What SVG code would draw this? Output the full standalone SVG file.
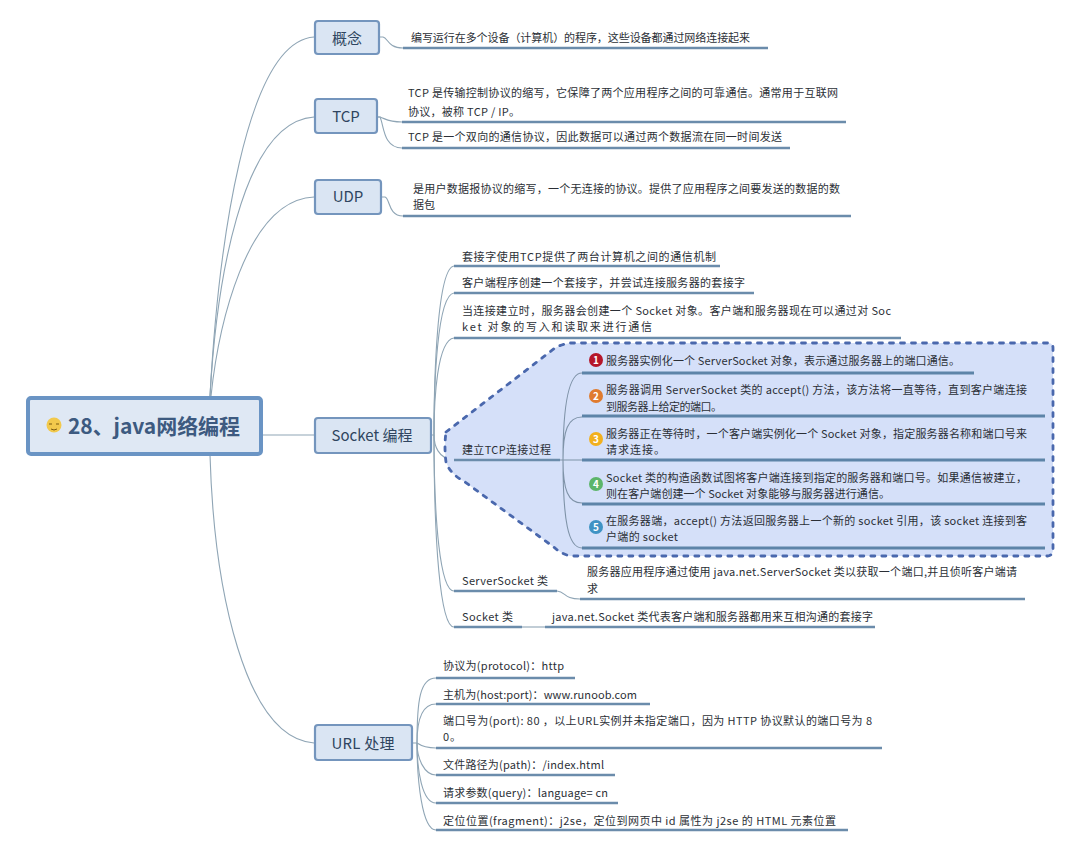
<svg xmlns="http://www.w3.org/2000/svg" width="1080" height="851" viewBox="0 0 1080 851">
<style>
text{font-family:"Noto Sans CJK SC","Noto Sans",sans-serif;fill:#2b2f36}
.t{font-size:11px}
.b{font-size:15px;fill:#2f4560;text-anchor:middle}
.node{fill:#dae5f3;stroke:#7495bd;stroke-width:2.2}
.c{fill:none;stroke:#8fa5b5;stroke-width:1.1}
.u{fill:none;stroke:#6b8cab;stroke-width:2.6}
.u2{fill:none;stroke:#5d84a8;stroke-width:2.8}
</style>
<rect width="1080" height="851" fill="#fff"/>
<g id="connectors">
<path class="c" d="M210 396C218 250 245 42 314 37"/>
<path class="c" d="M210 396C216 290 240 122 314 117"/>
<path class="c" d="M211 396C218 330 245 200 314 197"/>
<path class="c" d="M262 435H315"/>
<path class="c" d="M210 455C214 590 245 738 314 743"/>
<path class="c" d="M380 37H383C388 38 388 48 403 48"/>
<path class="c" d="M377 117H380C386 119 388 122 402 122"/>
<path class="c" d="M377 117H380C384 125 383 148 402 148"/>
<path class="c" d="M382 197H385C390 198 388 216 403 216"/>
<path class="c" d="M431 435H434C434 380 437 268 454 266"/>
<path class="c" d="M434 435C434 385 437 295 454 293"/>
<path class="c" d="M434 435C434 400 437 340 454 338"/>
<path class="c" d="M434 435C434 445 438 459 454 460"/>
<path class="c" d="M434 435C434 520 440 591 454 591"/>
<path class="c" d="M434 435C434 540 440 627 454 627"/>
<path class="c" d="M412 743H417C417 700 420 678 436 678"/>
<path class="c" d="M417 743C417 720 422 704 436 704"/>
<path class="c" d="M417 743C420 745 425 748 436 748"/>
<path class="c" d="M417 743C417 758 424 775 436 775"/>
<path class="c" d="M417 743C417 770 422 803 436 803"/>
<path class="c" d="M417 743C417 780 422 830 436 830"/>
<path class="c" d="M557 591C566 592 564 599 580 599"/>
<path class="c" d="M522 627H545"/>
</g>
<g id="socket-boundary">
<path d="M446 432L555 348Q562 344 570 343H1048Q1053 343 1053 348V550Q1053 555 1048 556H570Q560 553 555 548L465 482Q450 474 446 462Q444 447 446 432Z" fill="#d5e0f9" stroke="#4a68ad" stroke-width="2.8" stroke-dasharray="4 7" stroke-linecap="round"/>
</g>
<g id="root">
<rect x="28" y="398" width="233" height="56" rx="3" fill="#dfe8f4" stroke="#6a94c4" stroke-width="4"/>
<circle cx="54" cy="425" r="7.5" fill="#f2c94c"/>
<path d="M49 424h3M56 424h3M51 429q3 2 6 0" fill="none" stroke="#7a5a10" stroke-width="1"/>
<text x="68" y="434" font-size="21" font-weight="700" style="fill:#3d5a80" textLength="172">28、java网络编程</text>
</g>
<g id="n-concept"><rect class="node" x="315" y="21" width="64" height="33" rx="3"/><text class="b" x="347" y="44">概念</text></g>
<g id="n-tcp"><rect class="node" x="315" y="99" width="62" height="34" rx="3"/><text class="b" x="346" y="122">TCP</text></g>
<g id="n-udp"><rect class="node" x="315" y="180" width="66" height="34" rx="3"/><text class="b" x="348" y="202">UDP</text></g>
<g id="n-socket"><rect class="node" x="315" y="418" width="116" height="35" rx="3"/><text class="b" x="372" y="441" textLength="81">Socket 编程</text></g>
<g id="n-url"><rect class="node" x="315" y="725" width="97" height="35" rx="3"/><text class="b" x="363" y="749" textLength="63">URL 处理</text></g>
<g id="concept-items"><path class="u" d="M403 48H768"/><text class="t" x="411" y="42" textLength="339">编写运行在多个设备（计算机）的程序，这些设备都通过网络连接起来</text></g>
<g id="tcp-items"><path class="u" d="M402 122H846M402 148H790"/>
<text class="t" x="408" y="97" textLength="430">TCP 是传输控制协议的缩写，它保障了两个应用程序之间的可靠通信。通常用于互联网</text>
<text class="t" x="408" y="116" textLength="112">协议，被称 TCP / IP。</text>
<text class="t" x="408" y="141" textLength="374">TCP 是一个双向的通信协议，因此数据可以通过两个数据流在同一时间发送</text></g>
<g id="udp-items"><path class="u" d="M403 216H851"/>
<text class="t" x="413" y="193" textLength="427">是用户数据报协议的缩写，一个无连接的协议。提供了应用程序之间要发送的数据的数</text>
<text class="t" x="413" y="209" textLength="22">据包</text></g>
<g id="socket-items"><path class="u" d="M454 266H720M454 293H754M454 338H901M454 460H560M454 591H557M454 627H522"/>
<path class="u" d="M580 599H1025M545 627H875"/>
<text class="t" x="462" y="261" textLength="254">套接字使用TCP提供了两台计算机之间的通信机制</text>
<text class="t" x="462" y="287" textLength="283">客户端程序创建一个套接字，并尝试连接服务器的套接字</text>
<text class="t" x="462" y="315" textLength="429">当连接建立时，服务器会创建一个 Socket 对象。客户端和服务器现在可以通过对 Soc</text>
<text class="t" x="462" y="331" textLength="190">ket 对象的写入和读取来进行通信</text>
<text class="t" x="462" y="454" textLength="89">建立TCP连接过程</text>
<text class="t" x="462" y="585" textLength="86">ServerSocket 类</text>
<text class="t" x="587" y="576" textLength="430">服务器应用程序通过使用 java.net.ServerSocket 类以获取一个端口,并且侦听客户端请</text>
<text class="t" x="587" y="593">求</text>
<text class="t" x="462" y="621" textLength="51">Socket 类</text>
<text class="t" x="552" y="621" textLength="321">java.net.Socket 类代表客户端和服务器都用来互相沟通的套接字</text></g>
<g id="tcp-steps">
<path class="c" style="stroke:#7f93a8" d="M563 460C563 400 570 373 582 373M563 460C563 430 568 417 582 417M560 460H582M563 460C563 490 568 503 582 503M563 460C563 520 568 548 582 548"/>
<path class="u2" d="M582 373H974M582 416H1045M582 460H1045M582 504H1045M582 548H1045"/>
<g id="step1"><circle cx="596" cy="360" r="7" fill="#b5162a"/><text x="596" y="364" font-size="10" font-weight="700" text-anchor="middle" style="fill:#fff">1</text><text class="t" x="606" y="365" textLength="354">服务器实例化一个 ServerSocket 对象，表示通过服务器上的端口通信。</text></g>
<g id="step2"><circle cx="596" cy="396" r="7" fill="#e07b2f"/><text x="596" y="400" font-size="10" font-weight="700" text-anchor="middle" style="fill:#fff">2</text><text class="t" x="606" y="394" textLength="421">服务器调用 ServerSocket 类的 accept() 方法，该方法将一直等待，直到客户端连接</text><text class="t" x="606" y="411" textLength="116">到服务器上给定的端口。</text></g>
<g id="step3"><circle cx="596" cy="439" r="7" fill="#f2b01e"/><text x="596" y="443" font-size="10" font-weight="700" text-anchor="middle" style="fill:#fff">3</text><text class="t" x="606" y="438" textLength="421">服务器正在等待时，一个客户端实例化一个 Socket 对象，指定服务器名称和端口号来</text><text class="t" x="606" y="454" textLength="59">请求连接。</text></g>
<g id="step4"><circle cx="596" cy="484" r="7" fill="#5cb56a"/><text x="596" y="488" font-size="10" font-weight="700" text-anchor="middle" style="fill:#fff">4</text><text class="t" x="606" y="482" textLength="421">Socket 类的构造函数试图将客户端连接到指定的服务器和端口号。如果通信被建立，</text><text class="t" x="606" y="498" textLength="284">则在客户端创建一个 Socket 对象能够与服务器进行通信。</text></g>
<g id="step5"><circle cx="596" cy="527" r="7" fill="#3f93c4"/><text x="596" y="531" font-size="10" font-weight="700" text-anchor="middle" style="fill:#fff">5</text><text class="t" x="606" y="525" textLength="421">在服务器端，accept() 方法返回服务器上一个新的 socket 引用，该 socket 连接到客</text><text class="t" x="606" y="541" textLength="72">户端的 socket</text></g>
</g>
<g id="url-items"><path class="u" d="M436 678H575M436 704H650M436 748H882M436 775H615M436 803H618M436 830H848"/>
<text class="t" x="443" y="670" textLength="121">协议为(protocol)：http</text>
<text class="t" x="443" y="699" textLength="194">主机为(host:port)：www.runoob.com</text>
<text class="t" x="443" y="725" textLength="429">端口号为(port): 80 ，以上URL实例并未指定端口，因为 HTTP 协议默认的端口号为 8</text>
<text class="t" x="443" y="741" textLength="18">0。</text>
<text class="t" x="443" y="769" textLength="161">文件路径为(path)：/index.html</text>
<text class="t" x="443" y="797" textLength="165">请求参数(query)：language= cn</text>
<text class="t" x="443" y="825" textLength="393">定位位置(fragment)：j2se，定位到网页中 id 属性为 j2se 的 HTML 元素位置</text></g>
</svg>
